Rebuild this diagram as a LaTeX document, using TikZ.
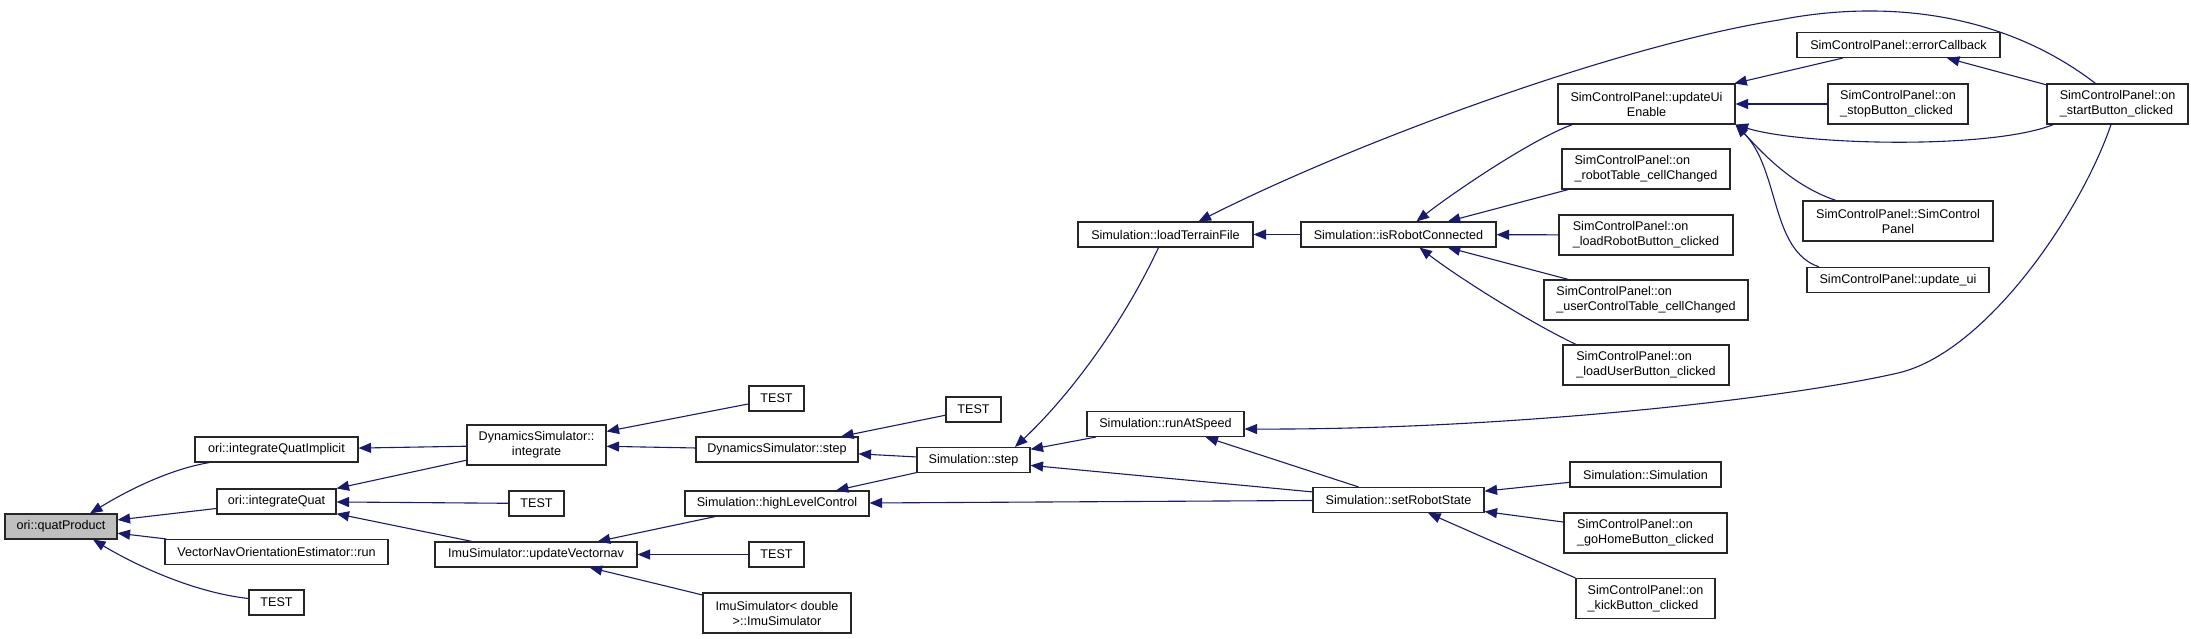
\documentclass[tikz,border=0pt]{standalone}
\usepackage{fontspec}
\setmainfont{Liberation Sans}
\usetikzlibrary{arrows.meta}
\definecolor{edgeblue}{HTML}{191970}
\definecolor{rootgray}{HTML}{BFBFBF}
\tikzset{
  box/.style={draw=black!85, line width=1.1pt, fill=white, inner sep=0pt, align=center,
              font=\fontsize{12.6}{15}\selectfont},
  lbox/.style={box, align=left},
  root/.style={box, fill=rootgray},
  edge/.style={draw=edgeblue, line width=1.1pt, {Triangle[length=12.5pt,width=10pt]}-},
}
\begin{document}
\begin{tikzpicture}[x=1pt,y=-1pt]
\useasboundingbox (0,0) rectangle (2191,639);
% nodes
\node[root, minimum width=112, minimum height=25] (qp) at (61,526.5) {ori::quatProduct};
\node[box, minimum width=163, minimum height=25] (iqi) at (276.5,449.5) {ori::integrateQuatImplicit};
\node[box, minimum width=119, minimum height=25] (iq) at (276.5,501.5) {ori::integrateQuat};
\node[box, minimum width=223, minimum height=25] (vn) at (276.5,552) {VectorNavOrientationEstimator::run};
\node[box, minimum width=55, minimum height=25] (t1) at (276.5,602.5) {TEST};
\node[box, minimum width=139, minimum height=40] (dsi) at (536.5,445) {DynamicsSimulator::\\integrate};
\node[box, minimum width=55, minimum height=25] (t2) at (536.5,503.5) {TEST};
\node[box, minimum width=202, minimum height=25] (uv) at (536,554.5) {ImuSimulator::updateVectornav};
\node[box, minimum width=55, minimum height=25] (t3) at (776.5,398.5) {TEST};
\node[box, minimum width=162, minimum height=25] (dss) at (777,449.5) {DynamicsSimulator::step};
\node[box, minimum width=184, minimum height=25] (hlc) at (777,503.5) {Simulation::highLevelControl};
\node[box, minimum width=55, minimum height=25] (t4) at (776.5,554.5) {TEST};
\node[box, minimum width=148, minimum height=40] (ims) at (777,613) {ImuSimulator< double\\ >::ImuSimulator};
\node[box, minimum width=55, minimum height=25] (t5) at (973.5,409.5) {TEST};
\node[box, minimum width=113, minimum height=25] (ss) at (973.5,460) {Simulation::step};
\node[box, minimum width=175, minimum height=25] (ltf) at (1165.5,234.5) {Simulation::loadTerrainFile};
\node[box, minimum width=157, minimum height=25] (ras) at (1165.5,424) {Simulation::runAtSpeed};
\node[box, minimum width=195, minimum height=25] (irc) at (1398.5,234.5) {Simulation::isRobotConnected};
\node[box, minimum width=171, minimum height=25] (srs) at (1398.5,500) {Simulation::setRobotState};
\node[box, minimum width=177, minimum height=40] (uue) at (1646.5,104) {SimControlPanel::updateUi\\Enable};
\node[lbox, minimum width=168, minimum height=40] (rt) at (1646,169) {SimControlPanel::on\\\_robotTable\_cellChanged};
\node[lbox, minimum width=174, minimum height=40] (lr) at (1646,235) {SimControlPanel::on\\\_loadRobotButton\_clicked};
\node[lbox, minimum width=204, minimum height=40] (uc) at (1646,300) {SimControlPanel::on\\\_userControlTable\_cellChanged};
\node[lbox, minimum width=166, minimum height=40] (lu) at (1646,365) {SimControlPanel::on\\\_loadUserButton\_clicked};
\node[box, minimum width=151, minimum height=25] (sim) at (1645.5,474.5) {Simulation::Simulation};
\node[lbox, minimum width=163, minimum height=40] (gh) at (1645.5,533) {SimControlPanel::on\\\_goHomeButton\_clicked};
\node[lbox, minimum width=139, minimum height=40] (kick) at (1645.5,598.5) {SimControlPanel::on\\\_kickButton\_clicked};
\node[box, minimum width=203, minimum height=25] (ec) at (1898.5,45) {SimControlPanel::errorCallback};
\node[lbox, minimum width=140, minimum height=40] (stp) at (1898,104) {SimControlPanel::on\\\_stopButton\_clicked};
\node[box, minimum width=190, minimum height=40] (scp) at (1898,221) {SimControlPanel::SimControl\\Panel};
\node[box, minimum width=182, minimum height=25] (uu) at (1898,280) {SimControlPanel::update\_ui};
\node[lbox, minimum width=141, minimum height=40] (sb) at (2117.5,104) {SimControlPanel::on\\\_startButton\_clicked};
% edges
\draw[edge] ([xshift=29]qp.north) .. controls (120,495) and (165,470) .. ([xshift=15]iqi.south west);
\draw[edge] (qp) -- (iq);
\draw[edge] (qp) -- (vn);
\draw[edge] ([xshift=32]qp.south) .. controls (130,562) and (190,592) .. ([yshift=4]t1.west);
\draw[edge] (iqi) -- (dsi);
\draw[edge] (iq) -- (dsi);
\draw[edge] (iq) -- (t2);
\draw[edge] (iq) -- (uv);
\draw[edge] (dsi) -- (t3);
\draw[edge] (dsi) -- (dss);
\draw[edge] (dss) -- (t5);
\draw[edge] (dss) -- (ss);
\draw[edge] (uv) -- (hlc);
\draw[edge] (uv) -- (t4);
\draw[edge] (uv) -- (ims);
\draw[edge] (hlc) -- (ss);
\draw[edge] (hlc) -- (srs);
\draw[edge] ([xshift=41.5]ss.north) .. controls (1065,400) and (1120,330) .. ([xshift=-7]ltf.south);
\draw[edge] (ss) -- (ras);
\draw[edge] (ss) -- (srs);
\draw[edge] (ltf) -- (irc);
\draw[edge] ([xshift=33]ltf.north) .. controls (1360,140) and (1620,45) .. (1779,20)
   .. controls (1880,0) and (2000,10) .. ([xshift=-22]sb.north);
\draw[edge] (ras) -- (srs);
\draw[edge] ([yshift=-5]ras.east) .. controls (1500,430) and (1780,400) .. (1898,373)
   .. controls (1985,353) and (2080,215) .. ([xshift=-6.5]sb.south);
\draw[edge] ([xshift=18]irc.north) .. controls (1450,195) and (1530,140) .. ([xshift=-74]uue.south);
\draw[edge] (irc) -- (rt);
\draw[edge] (irc) -- (lr);
\draw[edge] (irc) -- (uc);
\draw[edge] ([xshift=21]irc.south) .. controls (1455,275) and (1525,320) .. ([xshift=-70]lu.north);
\draw[edge] (uue) -- (ec);
\draw[edge] (uue) -- (stp);
\draw[edge] (uue.south east) .. controls (1800,145) and (1990,150) .. ([xshift=7]sb.south west);
\draw[edge] (uue.south east) .. controls (1760,150) and (1790,185) .. ([xshift=-62]scp.north);
\draw[edge] (uue.south east) .. controls (1780,170) and (1770,250) .. ([xshift=-79]uu.north);
\draw[edge] (ec) -- (sb);
\draw[edge] (srs) -- (sim);
\draw[edge] (srs) -- (gh);
\draw[edge] (srs) -- (kick.north west);
\end{tikzpicture}
\end{document}
